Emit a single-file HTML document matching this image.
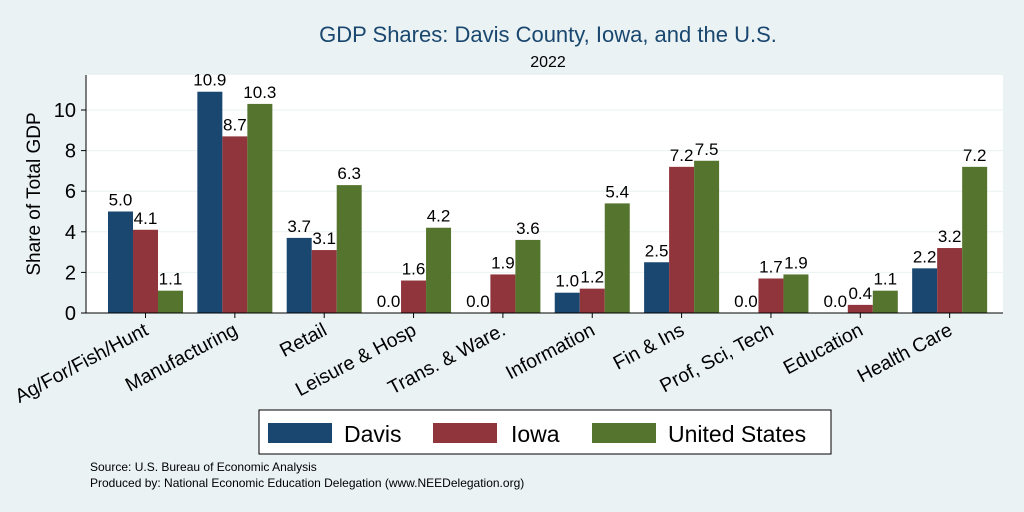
<!DOCTYPE html>
<html><head><meta charset="utf-8"><style>
body{margin:0;background:#eaf2f3;}
svg{display:block;font-family:"Liberation Sans",sans-serif;}
</style></head><body>
<svg id="chart" width="1024" height="512">
<rect x="0" y="0" width="1024" height="512" fill="#eaf2f3"/>
<text x="548" y="42" font-size="22" fill="#1a476f" text-anchor="middle">GDP Shares: Davis County, Iowa, and the U.S.</text>
<text x="548" y="67" font-size="16" fill="#000" text-anchor="middle">2022</text>
<rect x="86" y="75" width="917" height="238" fill="#fff"/>
<g id="grid"></g><g id="bars"></g><g id="axes"></g>
<text transform="translate(40,194) rotate(-90)" font-size="19" text-anchor="middle">Share of Total GDP</text>
<g>
<rect x="259" y="410" width="572" height="44" fill="#fff" stroke="#000" stroke-width="1"/>
<rect x="268" y="423" width="64" height="20" fill="#1a476f"/>
<text x="344" y="442" font-size="23">Davis</text>
<rect x="433" y="423" width="64" height="20" fill="#90353b"/>
<text x="511" y="442" font-size="23">Iowa</text>
<rect x="592" y="423" width="64" height="20" fill="#55752f"/>
<text x="668" y="442" font-size="23">United States</text>
</g>
<text x="90" y="471" font-size="12">Source: U.S. Bureau of Economic Analysis</text>
<text x="90" y="487" font-size="12">Produced by: National Economic Education Delegation (www.NEEDelegation.org)</text>
</svg>
<script>
const categories=["Ag/For/Fish/Hunt","Manufacturing","Retail","Leisure & Hosp","Trans. & Ware.","Information","Fin & Ins","Prof, Sci, Tech","Education","Health Care"];
const davis=[5.0,10.9,3.7,0.0,0.0,1.0,2.5,0.0,0.0,2.2];
const iowa=[4.1,8.7,3.1,1.6,1.9,1.2,7.2,1.7,0.4,3.2];
const us=[1.1,10.3,6.3,4.2,3.6,5.4,7.5,1.9,1.1,7.2];
const yTicks=[0,2,4,6,8,10];
const NS="http://www.w3.org/2000/svg";
const y=v=>313-v*20.3;
const gx=i=>108+i*89.35;
function mk(t,a,p){const e=document.createElementNS(NS,t);for(const k in a)e.setAttribute(k,a[k]);p.appendChild(e);return e;}
const grid=document.getElementById('grid'),bars=document.getElementById('bars'),axes=document.getElementById('axes');
yTicks.forEach(t=>{
  if(t>0){const l=mk('line',{x1:86,x2:1003,y1:y(t),y2:y(t),stroke:'#eaf2f3','stroke-width':1},grid);
  
  }
  const tk=mk('line',{x1:81,x2:86,y1:y(t),y2:y(t),stroke:'#000'},axes);
  
  
  const tx=mk('text',{x:76,y:y(t)+7,'font-size':20,'text-anchor':'end'},axes);
  tx.textContent=t;
  
  
});
mk('line',{x1:86,x2:86,y1:75,y2:313,stroke:'#000'},axes);
mk('line',{x1:86,x2:1003,y1:313,y2:313,stroke:'#000'},axes);
const series=[[davis,'#1a476f','davis'],[iowa,'#90353b','iowa'],[us,'#55752f','us']];
categories.forEach((c,i)=>{
  series.forEach(([vals,col,nm],s)=>{
    const x0=gx(i)+s*25,v=vals[i];
    const r=mk('rect',{x:x0,y:y(v),width:25,height:313-y(v),fill:col},bars);
    
    
    const t=mk('text',{x:x0+12.5,y:y(v)-6,'font-size':17,'text-anchor':'middle'},bars);
    t.textContent=v.toFixed(1);
    
    
  });
  const cx=gx(i)+37.5;
  const tk=mk('line',{x1:cx,x2:cx,y1:313,y2:318,stroke:'#000'},axes);
  
  
  const lab=mk('text',{transform:`translate(${cx+4},${334}) rotate(-28)`,'font-size':19.5,'text-anchor':'end'},axes);
  lab.textContent=c;
  
  
});
</script>
</body></html>
